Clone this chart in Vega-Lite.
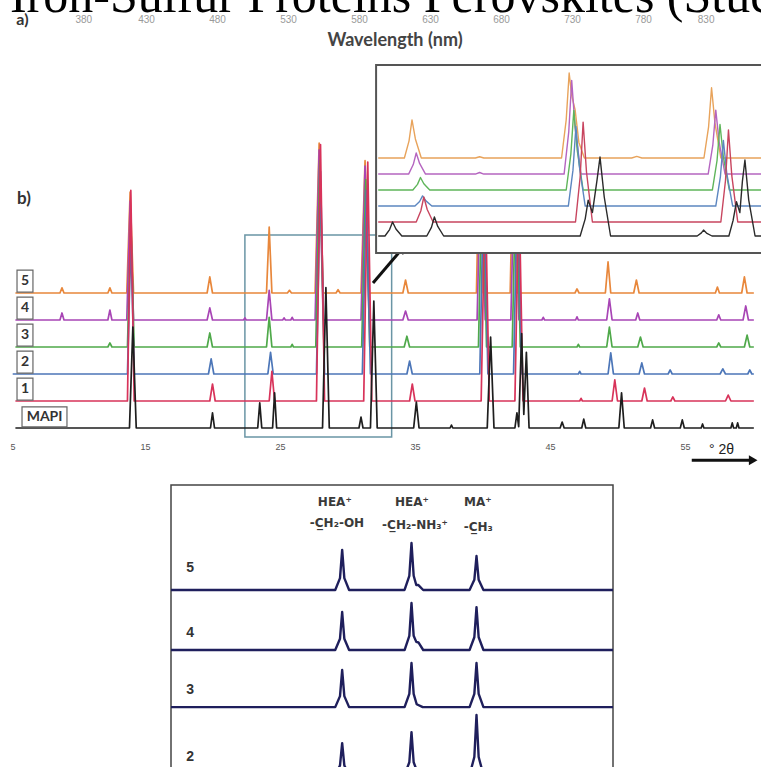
{
  "$schema": "https://vega.github.io/schema/vega-lite/v6.json",
  "width": 761,
  "height": 767,
  "padding": 0,
  "autosize": {"type": "none"},
  "background": "white",
  "config": {"view": {"stroke": null}, "axis": {"grid": false, "domain": false, "ticks": false}},
  "resolve": {"scale": {"x": "independent", "y": "independent", "color": "independent"}, "axis": {"x": "independent", "y": "independent"}},
  "datasets": {
    "main": [
      {"s":"5","x":5.4,"y":5},{"s":"5","x":8.7,"y":5},{"s":"5","x":8.85,"y":5.19},{"s":"5","x":9.0,"y":5},
      {"s":"5","x":12.25,"y":5},{"s":"5","x":12.4,"y":5.19},{"s":"5","x":12.55,"y":5},
      {"s":"5","x":13.65,"y":5},{"s":"5","x":13.9,"y":8.74},{"s":"5","x":14.15,"y":5},
      {"s":"5","x":19.6,"y":5},{"s":"5","x":19.8,"y":5.6},{"s":"5","x":20.0,"y":5},
      {"s":"5","x":24.0,"y":5},{"s":"5","x":24.2,"y":7.44},{"s":"5","x":24.4,"y":5},
      {"s":"5","x":25.55,"y":5},{"s":"5","x":25.7,"y":5.1},{"s":"5","x":25.85,"y":5},
      {"s":"5","x":27.6,"y":5},{"s":"5","x":27.9,"y":10.55},{"s":"5","x":28.2,"y":5},
      {"s":"5","x":29.15,"y":5},{"s":"5","x":29.3,"y":5.12},{"s":"5","x":29.45,"y":5},
      {"s":"5","x":31.0,"y":5},{"s":"5","x":31.3,"y":9.9},{"s":"5","x":31.6,"y":5},
      {"s":"5","x":34.1,"y":5},{"s":"5","x":34.3,"y":5.48},{"s":"5","x":34.5,"y":5},
      {"s":"5","x":39.55,"y":5},{"s":"5","x":39.8,"y":11},{"s":"5","x":40.05,"y":5},
      {"s":"5","x":42.05,"y":5},{"s":"5","x":42.3,"y":11},{"s":"5","x":42.55,"y":5},
      {"s":"5","x":46.85,"y":5},{"s":"5","x":47.0,"y":5.15},{"s":"5","x":47.15,"y":5},
      {"s":"5","x":49.1,"y":5},{"s":"5","x":49.3,"y":6.15},{"s":"5","x":49.5,"y":5},
      {"s":"5","x":51.2,"y":5},{"s":"5","x":51.4,"y":5.48},{"s":"5","x":51.6,"y":5},
      {"s":"5","x":57.25,"y":5},{"s":"5","x":57.4,"y":5.22},{"s":"5","x":57.55,"y":5},
      {"s":"5","x":59.2,"y":5},{"s":"5","x":59.4,"y":5.6},{"s":"5","x":59.6,"y":5},{"s":"5","x":60.1,"y":5},

      {"s":"4","x":5.4,"y":4},{"s":"4","x":8.7,"y":4},{"s":"4","x":8.85,"y":4.26},{"s":"4","x":9.0,"y":4},
      {"s":"4","x":12.25,"y":4},{"s":"4","x":12.4,"y":4.37},{"s":"4","x":12.55,"y":4},
      {"s":"4","x":13.65,"y":4},{"s":"4","x":13.9,"y":8.4},{"s":"4","x":14.15,"y":4},
      {"s":"4","x":19.6,"y":4},{"s":"4","x":19.8,"y":4.45},{"s":"4","x":20.0,"y":4},
      {"s":"4","x":22.3,"y":4},{"s":"4","x":22.4,"y":4.08},{"s":"4","x":22.5,"y":4},
      {"s":"4","x":24.0,"y":4},{"s":"4","x":24.2,"y":5.1},{"s":"4","x":24.4,"y":4},
      {"s":"4","x":25.2,"y":4},{"s":"4","x":25.3,"y":4.08},{"s":"4","x":25.4,"y":4},
      {"s":"4","x":25.8,"y":4},{"s":"4","x":25.9,"y":4.1},{"s":"4","x":26.0,"y":4},
      {"s":"4","x":27.6,"y":4},{"s":"4","x":27.9,"y":10.3},{"s":"4","x":28.2,"y":4},
      {"s":"4","x":31.0,"y":4},{"s":"4","x":31.3,"y":9.7},{"s":"4","x":31.6,"y":4},
      {"s":"4","x":34.1,"y":4},{"s":"4","x":34.3,"y":4.33},{"s":"4","x":34.5,"y":4},
      {"s":"4","x":39.6,"y":4},{"s":"4","x":39.9,"y":10.5},{"s":"4","x":40.2,"y":4},
      {"s":"4","x":42.1,"y":4},{"s":"4","x":42.4,"y":10.5},{"s":"4","x":42.7,"y":4},
      {"s":"4","x":44.4,"y":4},{"s":"4","x":44.5,"y":4.1},{"s":"4","x":44.6,"y":4},
      {"s":"4","x":46.9,"y":4},{"s":"4","x":47.0,"y":4.12},{"s":"4","x":47.1,"y":4},
      {"s":"4","x":49.2,"y":4},{"s":"4","x":49.4,"y":4.78},{"s":"4","x":49.6,"y":4},
      {"s":"4","x":51.35,"y":4},{"s":"4","x":51.5,"y":4.26},{"s":"4","x":51.65,"y":4},
      {"s":"4","x":57.35,"y":4},{"s":"4","x":57.5,"y":4.19},{"s":"4","x":57.65,"y":4},
      {"s":"4","x":59.3,"y":4},{"s":"4","x":59.5,"y":4.52},{"s":"4","x":59.7,"y":4},{"s":"4","x":60.1,"y":4},

      {"s":"3","x":5.4,"y":3},{"s":"3","x":12.25,"y":3},{"s":"3","x":12.4,"y":3.15},{"s":"3","x":12.55,"y":3},
      {"s":"3","x":13.7,"y":3},{"s":"3","x":13.95,"y":7.6},{"s":"3","x":14.2,"y":3},
      {"s":"3","x":19.6,"y":3},{"s":"3","x":19.8,"y":3.52},{"s":"3","x":20.0,"y":3},
      {"s":"3","x":24.0,"y":3},{"s":"3","x":24.2,"y":4.1},{"s":"3","x":24.4,"y":3},
      {"s":"3","x":25.8,"y":3},{"s":"3","x":25.9,"y":3.1},{"s":"3","x":26.0,"y":3},
      {"s":"3","x":27.65,"y":3},{"s":"3","x":27.95,"y":9.9},{"s":"3","x":28.25,"y":3},
      {"s":"3","x":31.05,"y":3},{"s":"3","x":31.35,"y":9.2},{"s":"3","x":31.65,"y":3},
      {"s":"3","x":34.2,"y":3},{"s":"3","x":34.4,"y":3.4},{"s":"3","x":34.6,"y":3},
      {"s":"3","x":39.7,"y":3},{"s":"3","x":40.0,"y":10},{"s":"3","x":40.3,"y":3},
      {"s":"3","x":42.2,"y":3},{"s":"3","x":42.5,"y":10},{"s":"3","x":42.8,"y":3},
      {"s":"3","x":47.0,"y":3},{"s":"3","x":47.1,"y":3.1},{"s":"3","x":47.2,"y":3},
      {"s":"3","x":49.2,"y":3},{"s":"3","x":49.4,"y":3.74},{"s":"3","x":49.6,"y":3},
      {"s":"3","x":51.5,"y":3},{"s":"3","x":51.7,"y":3.37},{"s":"3","x":51.9,"y":3},
      {"s":"3","x":57.35,"y":3},{"s":"3","x":57.5,"y":3.15},{"s":"3","x":57.65,"y":3},
      {"s":"3","x":59.4,"y":3},{"s":"3","x":59.6,"y":3.44},{"s":"3","x":59.8,"y":3},{"s":"3","x":60.1,"y":3},

      {"s":"2","x":5.2,"y":2},{"s":"2","x":13.7,"y":2},{"s":"2","x":13.95,"y":7.0},{"s":"2","x":14.2,"y":2},
      {"s":"2","x":19.7,"y":2},{"s":"2","x":19.9,"y":2.56},{"s":"2","x":20.1,"y":2},
      {"s":"2","x":24.1,"y":2},{"s":"2","x":24.3,"y":2.8},{"s":"2","x":24.5,"y":2},
      {"s":"2","x":27.7,"y":2},{"s":"2","x":28.0,"y":9.5},{"s":"2","x":28.3,"y":2},
      {"s":"2","x":31.1,"y":2},{"s":"2","x":31.4,"y":8.8},{"s":"2","x":31.7,"y":2},
      {"s":"2","x":34.4,"y":2},{"s":"2","x":34.6,"y":2.48},{"s":"2","x":34.8,"y":2},
      {"s":"2","x":39.8,"y":2},{"s":"2","x":40.1,"y":9.5},{"s":"2","x":40.4,"y":2},
      {"s":"2","x":42.3,"y":2},{"s":"2","x":42.6,"y":9.5},{"s":"2","x":42.9,"y":2},
      {"s":"2","x":47.1,"y":2},{"s":"2","x":47.2,"y":2.1},{"s":"2","x":47.3,"y":2},
      {"s":"2","x":49.3,"y":2},{"s":"2","x":49.5,"y":2.78},{"s":"2","x":49.7,"y":2},
      {"s":"2","x":51.6,"y":2},{"s":"2","x":51.8,"y":2.41},{"s":"2","x":52.0,"y":2},
      {"s":"2","x":53.75,"y":2},{"s":"2","x":53.9,"y":2.15},{"s":"2","x":54.05,"y":2},
      {"s":"2","x":57.6,"y":2},{"s":"2","x":57.8,"y":2.19},{"s":"2","x":58.0,"y":2},
      {"s":"2","x":59.65,"y":2},{"s":"2","x":59.8,"y":2.15},{"s":"2","x":59.95,"y":2},{"s":"2","x":60.1,"y":2},

      {"s":"1","x":5.4,"y":1},{"s":"1","x":13.7,"y":1},{"s":"1","x":13.95,"y":8.8},{"s":"1","x":14.2,"y":1},
      {"s":"1","x":19.8,"y":1},{"s":"1","x":20.0,"y":1.63},{"s":"1","x":20.2,"y":1},
      {"s":"1","x":24.2,"y":1},{"s":"1","x":24.4,"y":2.1},{"s":"1","x":24.6,"y":1},
      {"s":"1","x":27.7,"y":1},{"s":"1","x":28.0,"y":10.5},{"s":"1","x":28.3,"y":1},
      {"s":"1","x":31.2,"y":1},{"s":"1","x":31.5,"y":9.85},{"s":"1","x":31.8,"y":1},
      {"s":"1","x":34.6,"y":1},{"s":"1","x":34.8,"y":1.63},{"s":"1","x":35.0,"y":1},
      {"s":"1","x":39.9,"y":1},{"s":"1","x":40.2,"y":9},{"s":"1","x":40.5,"y":1},
      {"s":"1","x":42.4,"y":1},{"s":"1","x":42.7,"y":9},{"s":"1","x":43.0,"y":1},
      {"s":"1","x":47.2,"y":1},{"s":"1","x":47.3,"y":1.1},{"s":"1","x":47.4,"y":1},
      {"s":"1","x":49.6,"y":1},{"s":"1","x":49.8,"y":1.78},{"s":"1","x":50.0,"y":1},
      {"s":"1","x":51.8,"y":1},{"s":"1","x":52.0,"y":1.48},{"s":"1","x":52.2,"y":1},
      {"s":"1","x":53.95,"y":1},{"s":"1","x":54.1,"y":1.15},{"s":"1","x":54.25,"y":1},
      {"s":"1","x":58.0,"y":1},{"s":"1","x":58.2,"y":1.22},{"s":"1","x":58.4,"y":1},{"s":"1","x":60.1,"y":1},

      {"s":"MAPI","x":5.4,"y":0},{"s":"MAPI","x":13.85,"y":0},{"s":"MAPI","x":14.1,"y":3.74},{"s":"MAPI","x":14.35,"y":0},
      {"s":"MAPI","x":19.85,"y":0},{"s":"MAPI","x":20.0,"y":0.56},{"s":"MAPI","x":20.15,"y":0},
      {"s":"MAPI","x":23.35,"y":0},{"s":"MAPI","x":23.5,"y":0.93},{"s":"MAPI","x":23.65,"y":0},
      {"s":"MAPI","x":24.45,"y":0},{"s":"MAPI","x":24.6,"y":1.3},{"s":"MAPI","x":24.75,"y":0},
      {"s":"MAPI","x":28.15,"y":0},{"s":"MAPI","x":28.4,"y":5.2},{"s":"MAPI","x":28.65,"y":0},
      {"s":"MAPI","x":30.85,"y":0},{"s":"MAPI","x":31.0,"y":0.4},{"s":"MAPI","x":31.15,"y":0},
      {"s":"MAPI","x":31.7,"y":0},{"s":"MAPI","x":31.95,"y":4.7},{"s":"MAPI","x":32.2,"y":0},
      {"s":"MAPI","x":34.9,"y":0},{"s":"MAPI","x":35.1,"y":0.96},{"s":"MAPI","x":35.3,"y":0},
      {"s":"MAPI","x":37.6,"y":0},{"s":"MAPI","x":37.7,"y":0.11},{"s":"MAPI","x":37.8,"y":0},
      {"s":"MAPI","x":40.35,"y":0},{"s":"MAPI","x":40.6,"y":3.37},{"s":"MAPI","x":40.85,"y":0},
      {"s":"MAPI","x":42.4,"y":0},{"s":"MAPI","x":42.55,"y":0.56},{"s":"MAPI","x":42.68,"y":0.05},{"s":"MAPI","x":42.9,"y":3.5},{"s":"MAPI","x":43.06,"y":0.5},{"s":"MAPI","x":43.25,"y":2.8},{"s":"MAPI","x":43.45,"y":0},
      {"s":"MAPI","x":45.75,"y":0},{"s":"MAPI","x":45.9,"y":0.22},{"s":"MAPI","x":46.05,"y":0},
      {"s":"MAPI","x":47.35,"y":0},{"s":"MAPI","x":47.5,"y":0.33},{"s":"MAPI","x":47.65,"y":0},
      {"s":"MAPI","x":50.1,"y":0},{"s":"MAPI","x":50.3,"y":1.3},{"s":"MAPI","x":50.5,"y":0},
      {"s":"MAPI","x":52.45,"y":0},{"s":"MAPI","x":52.6,"y":0.3},{"s":"MAPI","x":52.75,"y":0},
      {"s":"MAPI","x":54.65,"y":0},{"s":"MAPI","x":54.8,"y":0.3},{"s":"MAPI","x":54.95,"y":0},
      {"s":"MAPI","x":56.2,"y":0},{"s":"MAPI","x":56.3,"y":0.15},{"s":"MAPI","x":56.4,"y":0},
      {"s":"MAPI","x":58.4,"y":0},{"s":"MAPI","x":58.5,"y":0.19},{"s":"MAPI","x":58.6,"y":0},
      {"s":"MAPI","x":58.8,"y":0},{"s":"MAPI","x":58.9,"y":0.19},{"s":"MAPI","x":59.0,"y":0},{"s":"MAPI","x":60.1,"y":0}
    ],
    "inset": [
      {"s":"5","x":23.2,"y":5},{"s":"5","x":23.82,"y":5},{"s":"5","x":23.93,"y":6.1},{"s":"5","x":24.0,"y":7.44},{"s":"5","x":24.08,"y":6.22},{"s":"5","x":24.22,"y":5},
      {"s":"5","x":25.5,"y":5},{"s":"5","x":25.6,"y":5.08},{"s":"5","x":25.7,"y":5},
      {"s":"5","x":27.54,"y":5},{"s":"5","x":27.65,"y":7.45},{"s":"5","x":27.72,"y":10.45},{"s":"5","x":27.78,"y":9.0},{"s":"5","x":27.86,"y":8.1},{"s":"5","x":27.95,"y":6},{"s":"5","x":28.08,"y":5},
      {"s":"5","x":29.2,"y":5},{"s":"5","x":29.32,"y":5.1},{"s":"5","x":29.44,"y":5},
      {"s":"5","x":30.91,"y":5},{"s":"5","x":31.02,"y":7.0},{"s":"5","x":31.09,"y":9.5},{"s":"5","x":31.17,"y":7.25},{"s":"5","x":31.31,"y":5},{"s":"5","x":32.3,"y":5},

      {"s":"4","x":23.2,"y":3.97},{"s":"4","x":23.92,"y":3.97},{"s":"4","x":24.03,"y":4.58},{"s":"4","x":24.1,"y":5.32},{"s":"4","x":24.18,"y":4.65},{"s":"4","x":24.32,"y":3.97},
      {"s":"4","x":25.5,"y":3.97},{"s":"4","x":25.6,"y":4.07},{"s":"4","x":25.7,"y":3.97},
      {"s":"4","x":27.6,"y":3.97},{"s":"4","x":27.71,"y":6.67},{"s":"4","x":27.78,"y":9.97},{"s":"4","x":27.86,"y":6.97},{"s":"4","x":28.0,"y":3.97},
      {"s":"4","x":31.01,"y":3.97},{"s":"4","x":31.12,"y":5.82},{"s":"4","x":31.19,"y":8.07},{"s":"4","x":31.27,"y":6.02},{"s":"4","x":31.41,"y":3.97},{"s":"4","x":32.3,"y":3.97},

      {"s":"3","x":23.2,"y":2.95},{"s":"3","x":24.02,"y":2.95},{"s":"3","x":24.13,"y":3.31},{"s":"3","x":24.2,"y":3.75},{"s":"3","x":24.28,"y":3.35},{"s":"3","x":24.42,"y":2.95},
      {"s":"3","x":27.65,"y":2.95},{"s":"3","x":27.76,"y":5.25},{"s":"3","x":27.83,"y":8.05},{"s":"3","x":27.91,"y":5.5},{"s":"3","x":28.05,"y":2.95},
      {"s":"3","x":31.11,"y":2.95},{"s":"3","x":31.22,"y":4.84},{"s":"3","x":31.29,"y":7.15},{"s":"3","x":31.37,"y":5.05},{"s":"3","x":31.51,"y":2.95},{"s":"3","x":32.3,"y":2.95},

      {"s":"2","x":23.2,"y":1.92},{"s":"2","x":24.07,"y":1.92},{"s":"2","x":24.18,"y":2.21},{"s":"2","x":24.25,"y":2.57},{"s":"2","x":24.33,"y":2.25},{"s":"2","x":24.47,"y":1.92},
      {"s":"2","x":27.7,"y":1.92},{"s":"2","x":27.81,"y":4.22},{"s":"2","x":27.88,"y":7.02},{"s":"2","x":27.96,"y":4.47},{"s":"2","x":28.1,"y":1.92},
      {"s":"2","x":31.19,"y":1.92},{"s":"2","x":31.3,"y":3.81},{"s":"2","x":31.37,"y":6.12},{"s":"2","x":31.45,"y":4.02},{"s":"2","x":31.59,"y":1.92},{"s":"2","x":32.3,"y":1.92},

      {"s":"1","x":23.2,"y":0.9},{"s":"1","x":24.1,"y":0.9},{"s":"1","x":24.21,"y":1.62},{"s":"1","x":24.28,"y":2.5},{"s":"1","x":24.36,"y":1.7},{"s":"1","x":24.5,"y":0.9},
      {"s":"1","x":27.87,"y":0.9},{"s":"1","x":27.98,"y":3.78},{"s":"1","x":28.05,"y":7.3},{"s":"1","x":28.13,"y":4.1},{"s":"1","x":28.27,"y":0.9},
      {"s":"1","x":31.31,"y":0.9},{"s":"1","x":31.42,"y":3.56},{"s":"1","x":31.49,"y":6.8},{"s":"1","x":31.57,"y":3.85},{"s":"1","x":31.71,"y":0.9},{"s":"1","x":32.3,"y":0.9},

      {"s":"MAPI","x":23.2,"y":0},{"s":"MAPI","x":23.36,"y":0},{"s":"MAPI","x":23.47,"y":0.41},{"s":"MAPI","x":23.54,"y":0.9},{"s":"MAPI","x":23.62,"y":0.45},{"s":"MAPI","x":23.76,"y":0},
      {"s":"MAPI","x":24.35,"y":0},{"s":"MAPI","x":24.46,"y":0.55},{"s":"MAPI","x":24.53,"y":1.22},{"s":"MAPI","x":24.61,"y":0.61},{"s":"MAPI","x":24.75,"y":0},
      {"s":"MAPI","x":27.98,"y":0},{"s":"MAPI","x":28.1,"y":1.1},{"s":"MAPI","x":28.17,"y":2.3},{"s":"MAPI","x":28.27,"y":1.5},{"s":"MAPI","x":28.38,"y":3.6},{"s":"MAPI","x":28.45,"y":5.06},{"s":"MAPI","x":28.55,"y":2.5},{"s":"MAPI","x":28.7,"y":0},
      {"s":"MAPI","x":30.75,"y":0},{"s":"MAPI","x":30.85,"y":0.2},{"s":"MAPI","x":30.9,"y":0.38},{"s":"MAPI","x":30.97,"y":0.19},{"s":"MAPI","x":31.1,"y":0},
      {"s":"MAPI","x":31.5,"y":0},{"s":"MAPI","x":31.6,"y":1.0},{"s":"MAPI","x":31.68,"y":2.2},{"s":"MAPI","x":31.76,"y":1.5},{"s":"MAPI","x":31.82,"y":3.5},{"s":"MAPI","x":31.88,"y":4.87},{"s":"MAPI","x":31.97,"y":2.3},{"s":"MAPI","x":32.12,"y":0},{"s":"MAPI","x":32.3,"y":0}
    ],
    "nmr": [
      {"s":"5","x":97,"y":6.38},{"s":"5","x":59.1,"y":6.38},{"s":"5","x":58.0,"y":6.79},{"s":"5","x":57.5,"y":7.76},{"s":"5","x":57.0,"y":6.79},{"s":"5","x":55.9,"y":6.38},
      {"s":"5","x":43.1,"y":6.38},{"s":"5","x":42.0,"y":6.87},{"s":"5","x":41.5,"y":8.0},{"s":"5","x":41.0,"y":6.87},{"s":"5","x":40.4,"y":6.55},{"s":"5","x":39.9,"y":6.55},{"s":"5","x":38.8,"y":6.38},
      {"s":"5","x":28.1,"y":6.38},{"s":"5","x":27.0,"y":6.73},{"s":"5","x":26.5,"y":7.55},{"s":"5","x":26.0,"y":6.73},{"s":"5","x":24.9,"y":6.38},{"s":"5","x":-5,"y":6.38},

      {"s":"4","x":97,"y":4.31},{"s":"4","x":59.1,"y":4.31},{"s":"4","x":58.0,"y":4.7},{"s":"4","x":57.5,"y":5.62},{"s":"4","x":57.0,"y":4.7},{"s":"4","x":55.9,"y":4.31},
      {"s":"4","x":43.1,"y":4.31},{"s":"4","x":42.0,"y":4.8},{"s":"4","x":41.5,"y":5.93},{"s":"4","x":41.0,"y":4.8},{"s":"4","x":40.4,"y":4.59},{"s":"4","x":39.9,"y":4.57},{"s":"4","x":38.8,"y":4.31},
      {"s":"4","x":28.1,"y":4.31},{"s":"4","x":27.0,"y":4.75},{"s":"4","x":26.5,"y":5.79},{"s":"4","x":26.0,"y":4.75},{"s":"4","x":24.9,"y":4.31},{"s":"4","x":-5,"y":4.31},

      {"s":"3","x":97,"y":2.34},{"s":"3","x":59.1,"y":2.34},{"s":"3","x":58.0,"y":2.72},{"s":"3","x":57.5,"y":3.62},{"s":"3","x":57.0,"y":2.72},{"s":"3","x":55.9,"y":2.34},
      {"s":"3","x":43.1,"y":2.34},{"s":"3","x":42.0,"y":2.8},{"s":"3","x":41.5,"y":3.86},{"s":"3","x":41.0,"y":2.8},{"s":"3","x":40.3,"y":2.44},{"s":"3","x":38.9,"y":2.34},
      {"s":"3","x":28.1,"y":2.34},{"s":"3","x":27.0,"y":2.8},{"s":"3","x":26.5,"y":3.86},{"s":"3","x":26.0,"y":2.8},{"s":"3","x":24.9,"y":2.34},{"s":"3","x":-5,"y":2.34},

      {"s":"2","x":97,"y":0},{"s":"2","x":59.1,"y":0},{"s":"2","x":58.0,"y":0.33},{"s":"2","x":57.5,"y":1.1},{"s":"2","x":57.0,"y":0.33},{"s":"2","x":55.9,"y":0},
      {"s":"2","x":43.1,"y":0},{"s":"2","x":42.0,"y":0.44},{"s":"2","x":41.5,"y":1.48},{"s":"2","x":41.0,"y":0.44},{"s":"2","x":39.9,"y":0},
      {"s":"2","x":28.1,"y":0},{"s":"2","x":27.0,"y":0.62},{"s":"2","x":26.5,"y":2.07},{"s":"2","x":26.0,"y":0.62},{"s":"2","x":24.9,"y":0},{"s":"2","x":-5,"y":0}
    ],
    "boxes": [
      {"l":"5","x1":5.52,"x2":6.7,"y1":5.03,"y2":5.85,"cx":6.11,"cy":5.44},
      {"l":"4","x1":5.52,"x2":6.7,"y1":4.03,"y2":4.85,"cx":6.11,"cy":4.44},
      {"l":"3","x1":5.52,"x2":6.7,"y1":3.03,"y2":3.85,"cx":6.11,"cy":3.44},
      {"l":"2","x1":5.52,"x2":6.7,"y1":2.03,"y2":2.85,"cx":6.11,"cy":2.44},
      {"l":"1","x1":5.52,"x2":6.7,"y1":1.03,"y2":1.85,"cx":6.11,"cy":1.44},
      {"l":"MAPI","x1":5.89,"x2":9.22,"y1":0.04,"y2":0.78,"cx":7.56,"cy":0.41}
    ]
  },
  "layer": [
    {
      "data": {"values": [{"wl": 334.2, "v": 0.9, "t": "Iron-Sulfur Proteins Perovskites (Stuctures)"}]},
      "mark": {"type": "text", "font": "Liberation Serif", "fontSize": 50, "color": "#000000", "align": "left", "baseline": "alphabetic"},
      "encoding": {
        "x": {"field": "wl", "type": "quantitative", "scale": {"domain": [380, 830], "range": [75, 714], "nice": false, "zero": false}, "axis": null},
        "y": {"field": "v", "type": "quantitative", "scale": {"domain": [0, 1], "range": [30, 10], "nice": false, "zero": false}, "axis": null},
        "text": {"field": "t"}
      }
    },
    {
      "data": {"values": [{"wl": 343, "v": 0.5, "t": "a)"}]},
      "mark": {"type": "text", "font": "Lato", "fontWeight": "bold", "fontSize": 16, "color": "#333", "align": "center", "baseline": "middle"},
      "encoding": {
        "x": {"field": "wl", "type": "quantitative", "scale": {"domain": [380, 830], "range": [75, 714], "nice": false, "zero": false},
              "axis": {"orient": "bottom", "offset": -753, "values": [380, 430, 480, 530, 580, 630, 680, 730, 780, 830], "title": "Wavelength (nm)", "titleFont": "Lato", "titleFontSize": 18, "titleFontWeight": "bold", "titleColor": "#444", "titlePadding": 7, "labelFont": "Liberation Sans", "labelFontSize": 10, "labelColor": "#9a9a9a", "labelPadding": 0, "ticks": false, "domain": false, "grid": false, "labelOverlap": false}},
        "y": {"field": "v", "type": "quantitative", "scale": {"domain": [0, 1], "range": [30, 10], "nice": false, "zero": false}, "axis": null},
        "text": {"field": "t"}
      }
    },
    {
      "data": {"values": [{"x1": 22.4, "x2": 33.27, "y1": -0.33, "y2": 7.15}]},
      "mark": {"type": "rect", "fill": null, "fillOpacity": 0, "stroke": "#6a95a5", "strokeWidth": 1.5},
      "encoding": {
        "x": {"field": "x1", "type": "quantitative", "scale": {"domain": [5, 60], "range": [10, 752.5], "nice": false, "zero": false}, "axis": null},
        "x2": {"field": "x2"},
        "y": {"field": "y1", "type": "quantitative", "scale": {"domain": [0, 12], "range": [428, 104], "nice": false, "zero": false}, "axis": null},
        "y2": {"field": "y2"}
      }
    },
    {
      "data": {"name": "main"},
      "mark": {"type": "line", "strokeWidth": 1.7, "strokeJoin": "round"},
      "encoding": {
        "x": {"field": "x", "type": "quantitative", "scale": {"domain": [5, 60], "range": [10, 752.5], "nice": false, "zero": false},
              "axis": {"orient": "bottom", "offset": -325, "values": [5, 15, 25, 35, 45, 55], "title": null, "labelFont": "Liberation Sans", "labelFontSize": 9, "labelColor": "#555", "labelPadding": 0, "ticks": false, "domain": false, "grid": false, "labelOverlap": false}},
        "y": {"field": "y", "type": "quantitative", "scale": {"domain": [0, 12], "range": [428, 104], "nice": false, "zero": false}, "axis": null},
        "color": {"field": "s", "type": "nominal", "scale": {"domain": ["5", "4", "3", "2", "1", "MAPI"], "range": ["#e8873b", "#a845b5", "#4fa94a", "#4c76b8", "#d8335a", "#1e1e1e"]}, "legend": null}
      }
    },
    {
      "data": {"name": "boxes"},
      "mark": {"type": "rect", "fill": "white", "stroke": "#666", "strokeWidth": 1.2},
      "encoding": {
        "x": {"field": "x1", "type": "quantitative", "scale": {"domain": [5, 60], "range": [10, 752.5], "nice": false, "zero": false}, "axis": null},
        "x2": {"field": "x2"},
        "y": {"field": "y1", "type": "quantitative", "scale": {"domain": [0, 12], "range": [428, 104], "nice": false, "zero": false}, "axis": null},
        "y2": {"field": "y2"}
      }
    },
    {
      "data": {"name": "boxes"},
      "mark": {"type": "text", "font": "Lato", "fontWeight": "bold", "fontSize": 14, "color": "#333", "align": "center", "baseline": "middle"},
      "encoding": {
        "x": {"field": "cx", "type": "quantitative", "scale": {"domain": [5, 60], "range": [10, 752.5], "nice": false, "zero": false}, "axis": null},
        "y": {"field": "cy", "type": "quantitative", "scale": {"domain": [0, 12], "range": [428, 104], "nice": false, "zero": false}, "axis": null},
        "text": {"field": "l"}
      }
    },
    {
      "data": {"values": [{"x": 6.04, "y": 8.48, "t": "b)"}]},
      "mark": {"type": "text", "font": "Lato", "fontWeight": "bold", "fontSize": 17, "color": "#333", "align": "center", "baseline": "middle"},
      "encoding": {
        "x": {"field": "x", "type": "quantitative", "scale": {"domain": [5, 60], "range": [10, 752.5], "nice": false, "zero": false}, "axis": null},
        "y": {"field": "y", "type": "quantitative", "scale": {"domain": [0, 12], "range": [428, 104], "nice": false, "zero": false}, "axis": null},
        "text": {"field": "t"}
      }
    },
    {
      "data": {"values": [{"x": 57.7, "y": -0.82, "t": "° 2θ"}]},
      "mark": {"type": "text", "font": "Liberation Sans", "fontSize": 14, "color": "#222", "align": "center", "baseline": "middle"},
      "encoding": {
        "x": {"field": "x", "type": "quantitative", "scale": {"domain": [5, 60], "range": [10, 752.5], "nice": false, "zero": false}, "axis": null},
        "y": {"field": "y", "type": "quantitative", "scale": {"domain": [0, 12], "range": [428, 104], "nice": false, "zero": false}, "axis": null},
        "text": {"field": "t"}
      }
    },
    {
      "data": {"values": [{"a": "inset", "x": 31.89, "y": 5.37}, {"a": "inset", "x": 33.9, "y": 6.55}, {"a": "theta", "x": 55.5, "y": -1.19}, {"a": "theta", "x": 59.9, "y": -1.19}]},
      "mark": {"type": "line", "color": "#111", "strokeWidth": 3},
      "encoding": {
        "x": {"field": "x", "type": "quantitative", "scale": {"domain": [5, 60], "range": [10, 752.5], "nice": false, "zero": false}, "axis": null},
        "y": {"field": "y", "type": "quantitative", "scale": {"domain": [0, 12], "range": [428, 104], "nice": false, "zero": false}, "axis": null},
        "detail": {"field": "a"}
      }
    },
    {
      "data": {"values": [{"x": 34.05, "y": 6.64}]},
      "mark": {"type": "point", "shape": "triangle-up", "angle": 40, "size": 90, "filled": true, "color": "#111", "opacity": 1},
      "encoding": {
        "x": {"field": "x", "type": "quantitative", "scale": {"domain": [5, 60], "range": [10, 752.5], "nice": false, "zero": false}, "axis": null},
        "y": {"field": "y", "type": "quantitative", "scale": {"domain": [0, 12], "range": [428, 104], "nice": false, "zero": false}, "axis": null}
      }
    },
    {
      "data": {"values": [{"x": 60.05, "y": -1.19}]},
      "mark": {"type": "point", "shape": "triangle-right", "size": 100, "filled": true, "color": "#111", "opacity": 1},
      "encoding": {
        "x": {"field": "x", "type": "quantitative", "scale": {"domain": [5, 60], "range": [10, 752.5], "nice": false, "zero": false}, "axis": null},
        "y": {"field": "y", "type": "quantitative", "scale": {"domain": [0, 12], "range": [428, 104], "nice": false, "zero": false}, "axis": null}
      }
    },
    {
      "data": {"values": [{"x1": 23.15, "x2": 32.6, "y1": -1.09, "y2": 10.96}]},
      "mark": {"type": "rect", "fill": "white", "stroke": "#555", "strokeWidth": 2},
      "encoding": {
        "x": {"field": "x1", "type": "quantitative", "scale": {"domain": [24, 32], "range": [412, 750], "nice": false, "zero": false}, "axis": null},
        "x2": {"field": "x2"},
        "y": {"field": "y1", "type": "quantitative", "scale": {"domain": [0, 10], "range": [236, 80], "nice": false, "zero": false}, "axis": null},
        "y2": {"field": "y2"}
      }
    },
    {
      "data": {"name": "inset"},
      "mark": {"type": "line", "strokeWidth": 1.4, "strokeJoin": "round"},
      "encoding": {
        "x": {"field": "x", "type": "quantitative", "scale": {"domain": [24, 32], "range": [412, 750], "nice": false, "zero": false},
              "axis": {"orient": "bottom", "offset": -525, "values": [24, 25, 26, 27, 28, 29, 30, 31, 32], "title": null, "labelFont": "Liberation Sans", "labelFontSize": 6, "labelColor": "#888", "labelPadding": 0, "ticks": false, "domain": false, "grid": false, "labelOverlap": false}},
        "y": {"field": "y", "type": "quantitative", "scale": {"domain": [0, 10], "range": [236, 80], "nice": false, "zero": false}, "axis": null},
        "color": {"field": "s", "type": "nominal", "scale": {"domain": ["5", "4", "3", "2", "1", "MAPI"], "range": ["#e8a35b", "#b565c0", "#5fb55a", "#5c86c0", "#c8455f", "#2a2a2a"]}, "legend": null}
      }
    },
    {
      "data": {"values": [{"x1": 97, "x2": -5, "y1": -1, "y2": 10}]},
      "mark": {"type": "rect", "fill": "white", "stroke": "#444", "strokeWidth": 1.5},
      "encoding": {
        "x": {"field": "x1", "type": "quantitative", "scale": {"domain": [-5, 97], "range": [613, 171], "nice": false, "zero": false}, "axis": null},
        "x2": {"field": "x2"},
        "y": {"field": "y1", "type": "quantitative", "scale": {"domain": [0, 10], "range": [775, 485], "nice": false, "zero": false}, "axis": null},
        "y2": {"field": "y2"}
      }
    },
    {
      "data": {"name": "nmr"},
      "mark": {"type": "line", "strokeWidth": 2.4, "color": "#1f1f5c", "strokeJoin": "round"},
      "encoding": {
        "x": {"field": "x", "type": "quantitative", "scale": {"domain": [-5, 97], "range": [613, 171], "nice": false, "zero": false}, "axis": null},
        "y": {"field": "y", "type": "quantitative", "scale": {"domain": [0, 10], "range": [775, 485], "nice": false, "zero": false}, "axis": null},
        "detail": {"field": "s"}
      }
    },
    {
      "data": {"values": [{"t": "5", "x": 92.6, "y": 7.14}, {"t": "4", "x": 92.6, "y": 4.9}, {"t": "3", "x": 92.6, "y": 2.93}, {"t": "2", "x": 92.6, "y": 0.62}]},
      "mark": {"type": "text", "font": "Liberation Sans", "fontWeight": "bold", "fontSize": 14, "color": "#333", "align": "center", "baseline": "middle"},
      "encoding": {
        "x": {"field": "x", "type": "quantitative", "scale": {"domain": [-5, 97], "range": [613, 171], "nice": false, "zero": false}, "axis": null},
        "y": {"field": "y", "type": "quantitative", "scale": {"domain": [0, 10], "range": [775, 485], "nice": false, "zero": false}, "axis": null},
        "text": {"field": "t"}
      }
    },
    {
      "data": {"values": [
        {"t": "HEA⁺", "x": 59.2, "y": 9.41}, {"t": "-C̲H₂-OH", "x": 58.7, "y": 8.69},
        {"t": "HEA⁺", "x": 41.4, "y": 9.41}, {"t": "-C̲H₂-NH₃⁺", "x": 40.7, "y": 8.62},
        {"t": "MA⁺", "x": 26.2, "y": 9.41}, {"t": "-C̲H₃", "x": 26.1, "y": 8.55}
      ]},
      "mark": {"type": "text", "font": "DejaVu Sans", "fontWeight": "bold", "fontSize": 12, "color": "#3a3a3a", "align": "center", "baseline": "middle"},
      "encoding": {
        "x": {"field": "x", "type": "quantitative", "scale": {"domain": [-5, 97], "range": [613, 171], "nice": false, "zero": false}, "axis": null},
        "y": {"field": "y", "type": "quantitative", "scale": {"domain": [0, 10], "range": [775, 485], "nice": false, "zero": false}, "axis": null},
        "text": {"field": "t"}
      }
    }
  ]
}
